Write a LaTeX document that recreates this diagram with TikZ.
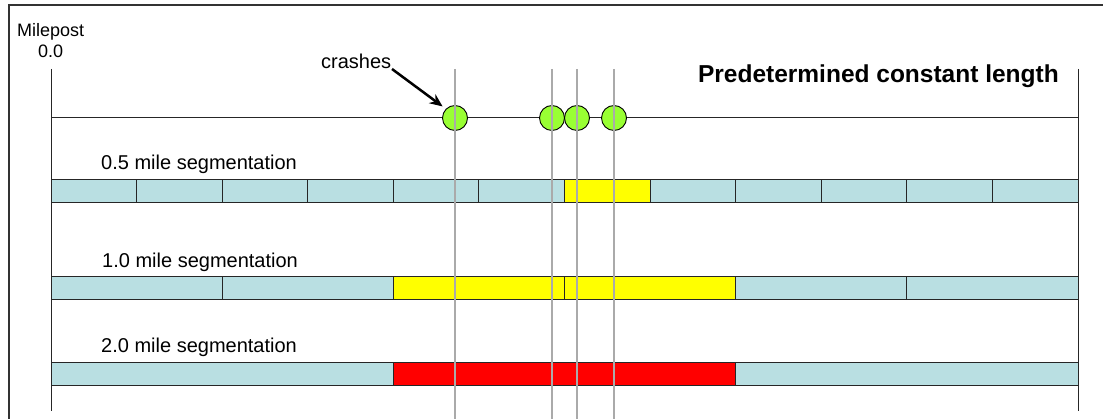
\documentclass[tikz,border=0pt]{standalone}
\usepackage{fontspec}
\setmainfont{Liberation Sans}
\usetikzlibrary{arrows.meta}
\definecolor{segblue}{RGB}{185,223,226}
\definecolor{segyellow}{RGB}{255,255,0}
\definecolor{segred}{RGB}{255,0,0}
\definecolor{crashgreen}{RGB}{153,255,51}
\definecolor{guidegray}{RGB}{170,170,170}
\definecolor{framegray}{RGB}{50,50,50}

\begin{document}
\begin{tikzpicture}[x=1pt,y=-1pt,
  seg/.style={draw=black!85, line width=1pt, inner sep=0pt, outer sep=0pt,
              minimum height=23pt, anchor=north west},
  crash/.style={circle, draw=black, line width=0.9pt, fill=crashgreen,
                minimum size=25pt, inner sep=0pt},
  lbl/.style={font=\fontsize{20}{23}\selectfont, anchor=base west, inner sep=0pt},
  guide/.style={draw=guidegray, line width=1.2pt},
  axis/.style={draw=black!85, line width=1pt},
]
\useasboundingbox (0,0) rectangle (1103,419);

% outer frame
\draw[framegray, line width=1.2pt] (9,430) -- (9,5) -- (1115,5);

% milepost limits and the road line
\draw[axis] (51,69) -- (51,411);
\draw[axis] (1078,69) -- (1078,411);
\draw[axis] (51,118) -- (1078,118);

% 0.5 mile segments
\foreach \i/\c in {0/segblue,1/segblue,2/segblue,3/segblue,4/segblue,5/segblue,
                   6/segyellow,7/segblue,8/segblue,9/segblue,10/segblue,11/segblue}
  \node[seg, fill=\c, minimum width=85.583pt] (half\i) at ({51+\i*85.583},180) {};

% 1.0 mile segments
\foreach \i/\c in {0/segblue,1/segblue,2/segyellow,3/segyellow,4/segblue,5/segblue}
  \node[seg, fill=\c, minimum width=171.167pt] (one\i) at ({51+\i*171.167},277) {};

% 2.0 mile segments
\foreach \i/\c in {0/segblue,1/segred,2/segblue}
  \node[seg, fill=\c, minimum width=342.333pt] (two\i) at ({51+\i*342.333},363) {};

% crash locations
\node[crash] (c1) at (455,118) {};
\node[crash] (c2) at (552,118) {};
\node[crash] (c3) at (577,118) {};
\node[crash] (c4) at (614,118) {};

% guide lines through the crashes
\foreach \x in {455,552,577,614}
  \draw[guide] (\x,69) -- (\x,425);

% labels
\node[font=\fontsize{18}{21}\selectfont, anchor=base west, inner sep=0pt] (mp) at (17,37) {Milepost};
\node[font=\fontsize{18}{21}\selectfont, anchor=base west, inner sep=0pt] (mpv) at (38,58) {0.0};
\node[lbl] (crashlbl) at (321,69) {crashes};
\node[font=\bfseries\fontsize{24.5}{28}\selectfont, anchor=base east, inner sep=0pt] (title) at (1059,83) {Predetermined constant length};
\node[lbl] (l05) at (101,170) {0.5 mile segmentation};
\node[lbl] (l10) at (102,268) {1.0 mile segmentation};
\node[lbl] (l20) at (101,353) {2.0 mile segmentation};

% pointer to the first crash
\coordinate (arrowstart) at (392,69);
\draw[-{Stealth[length=13pt,width=11pt]}, line width=2.5pt, shorten >=4pt] (arrowstart) -- (c1.135);
\end{tikzpicture}
\end{document}
